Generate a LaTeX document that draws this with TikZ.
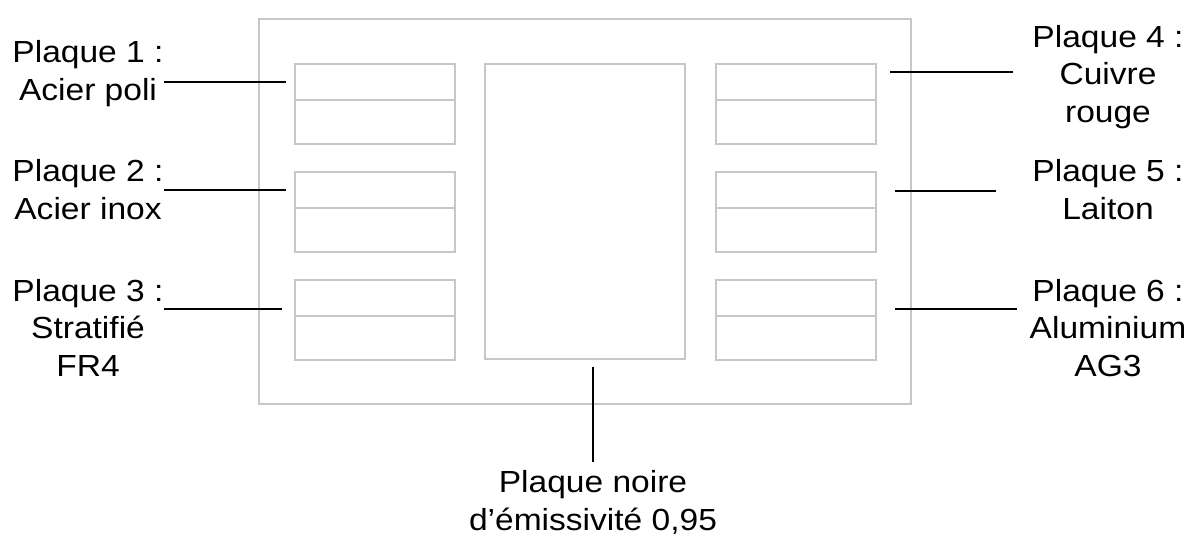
\documentclass[tikz,border=0pt]{standalone}
\usepackage{fontspec}
\setmainfont{Liberation Sans}
\newfontfamily\labfont[FakeStretch=1.1]{Liberation Sans}
\begin{document}
\begin{tikzpicture}[x=1pt,y=-1pt,
  frame/.style={draw=black!22,line width=2.6pt},
  lead/.style={draw=black,line width=2.6pt},
  lab/.style={inner sep=0pt,align=center,anchor=base,font=\labfont\fontsize{30.5}{37.5}\selectfont}]
\useasboundingbox (0,0) rectangle (1190,535);
% outer frame
\draw[frame] (259,19) rectangle (911,404);
% left plates
\foreach \i/\t in {1/64,2/172,3/280}{
  \draw[frame] (295,\t) rectangle (455,\t+80);
  \draw[frame] (295,\t+36) -- (455,\t+36);
}
% right plates
\foreach \i/\t in {4/64,5/172,6/280}{
  \draw[frame] (716,\t) rectangle (876,\t+80);
  \draw[frame] (716,\t+36) -- (876,\t+36);
}
% centre black plate
\draw[frame] (485,64) rectangle (685,359);
% labels (anchor = baseline of last line)
\node[lab] (l1) at (88,100) {Plaque 1 :\\Acier poli};
\node[lab] (l2) at (88,219) {Plaque 2 :\\Acier inox};
\node[lab] (l3) at (88,376) {Plaque 3 :\\Stratifié\\FR4};
\node[lab] (l4) at (1108,122) {Plaque 4 :\\Cuivre\\rouge};
\node[lab] (l5) at (1108,219) {Plaque 5 :\\Laiton};
\node[lab] (l6) at (1108,376) {Plaque 6 :\\Aluminium\\AG3};
\node[lab] (l7) at (593,530) {Plaque noire\\d’émissivité 0,95};
% leader end points
\coordinate (a1) at (164,82);  \coordinate (b1) at (286,82);
\coordinate (a2) at (164,190); \coordinate (b2) at (286,190);
\coordinate (a3) at (164,309); \coordinate (b3) at (282,309);
\coordinate (a4) at (1013,72); \coordinate (b4) at (890,72);
\coordinate (a5) at (996,191); \coordinate (b5) at (895,191);
\coordinate (a6) at (1017,309); \coordinate (b6) at (895,309);
\coordinate (a7) at (593,462); \coordinate (b7) at (593,367);
\foreach \k in {1,...,7}{\draw[lead] (a\k) -- (b\k);}
\end{tikzpicture}
\end{document}
